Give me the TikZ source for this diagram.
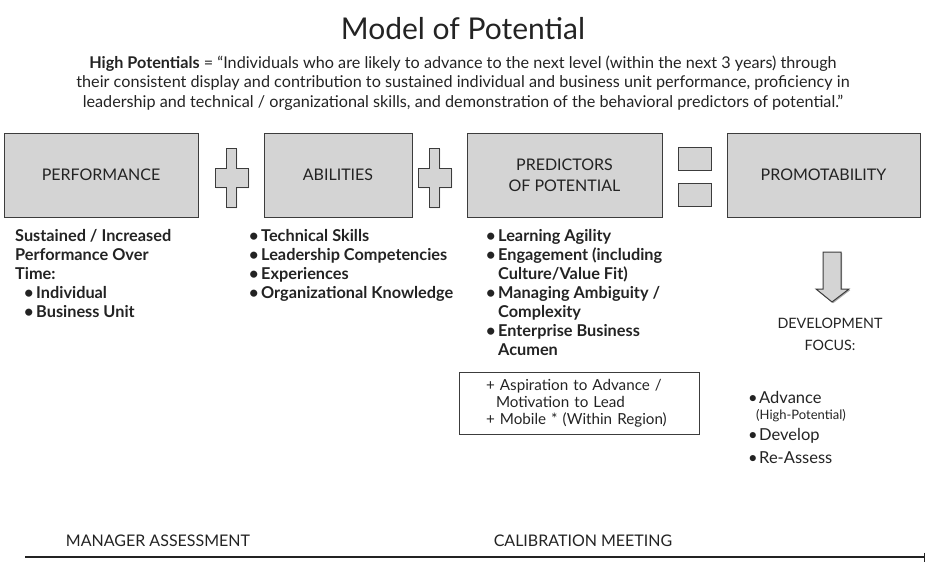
\documentclass[tikz,border=0pt]{standalone}
\usepackage{fontspec}
\setmainfont{Lato}
\usetikzlibrary{arrows.meta,shadows}
\definecolor{boxgray}{RGB}{212,212,212}
\definecolor{edgegray}{RGB}{60,60,60}
\definecolor{inkgray}{RGB}{35,35,35}
\tikzset{
  softshadow/.style={drop shadow={shadow xshift=1.2pt,shadow yshift=-1.2pt,fill=black!55,opacity=0.6}},
  blockbox/.style={draw=edgegray,fill=boxgray,line width=1pt,minimum height=84pt,inner sep=0pt,softshadow,
    align=center,text=inkgray,font=\fontsize{16}{21}\selectfont},
  signshape/.style={draw=edgegray,fill=boxgray,line width=1pt,softshadow},
  listtext/.style={anchor=north west,align=left,inner sep=0pt,text=inkgray,font=\fontsize{16.3}{19}\selectfont\bfseries},
  plaintext/.style={inner sep=0pt,text=inkgray,font=\fontsize{14.3}{22}\selectfont}
}
\newcommand{\bul}{\makebox[12pt][l]{\textbullet}}
\begin{document}
\begin{tikzpicture}[x=1pt,y=-1pt]
  \useasboundingbox (0,0) rectangle (927,563);
  % heading
  \node[plaintext,font=\fontsize{30}{34}\selectfont] (title) at (463,29) {Model of Potential};
  \node[plaintext,align=center,font=\fontsize{16.2}{19.5}\selectfont] (defn) at (463,83)
    {\textbf{High Potentials} = ``Individuals who are likely to advance to the next level (within the next 3 years) through\\
     their consistent display and contribution to sustained individual and business unit performance, proficiency in\\
     leadership and technical / organizational skills, and demonstration of the behavioral predictors of potential.''};
  % the four blocks
  \node[blockbox,minimum width=194pt] (perf) at (101,175) {PERFORMANCE};
  \node[blockbox,minimum width=148pt] (abil) at (338,175) {ABILITIES};
  \node[blockbox,minimum width=195pt] (pred) at (564.5,175) {PREDICTORS\\OF POTENTIAL};
  \node[blockbox,minimum width=193pt] (prom) at (823.5,175) {PROMOTABILITY};
  % plus, plus, equals
  \foreach \dx in {0,203}{
    \draw[signshape,shift={(\dx,0)}] (226,148) -- (236,148) -- (236,168) -- (248,168) -- (248,187) -- (236,187)
      -- (236,207) -- (226,207) -- (226,187) -- (215,187) -- (215,168) -- (226,168) -- cycle;
  }
  \draw[signshape] (678,147) rectangle (711,170);
  \draw[signshape] (678,183) rectangle (711,206);
  % lists under the blocks
  \node[listtext] (perflist) at (15,229) {Sustained / Increased\\Performance Over\\Time:\\
    \hspace*{9pt}\bul Individual\\\hspace*{9pt}\bul Business Unit};
  \node[listtext] (abillist) at (249,229) {\bul Technical Skills\\\bul Leadership Competencies\\
    \bul Experiences\\\bul Organizational Knowledge};
  \node[listtext] (predlist) at (486,229) {\bul Learning Agility\\\bul Engagement (including\\
    \hspace*{12pt}Culture/Value Fit)\\\bul Managing Ambiguity /\\\hspace*{12pt}Complexity\\
    \bul Enterprise Business\\\hspace*{12pt}Acumen};
  \node[draw=edgegray,line width=0.8pt,minimum width=240pt,minimum height=62pt,text width=192pt,
    inner xsep=24pt,align=left,text=inkgray,font=\fontsize{15.2}{16.8}\selectfont] (aspire) at (579,403)
    {\hspace*{3pt}+ Aspiration to Advance /\\\hspace*{13pt}Motivation to Lead\\\hspace*{3pt}+ Mobile * (Within Region)};
  % development focus
  \draw[signshape] (823,252) -- (841,252) -- (841,289) -- (849,289) -- (832,302) -- (816,289) -- (823,289) -- cycle;
  \node[plaintext,align=center] (focus) at (830,334) {DEVELOPMENT\\FOCUS:};
  \node[plaintext,anchor=west,font=\fontsize{16.5}{18}\selectfont] (adv) at (748,397) {\makebox[11pt][l]{\textbullet}Advance};
  \node[plaintext,anchor=west,font=\fontsize{13}{15}\selectfont] (advsub) at (756,416) {(High-Potential)};
  \node[plaintext,anchor=west,font=\fontsize{16.5}{18}\selectfont] (dev) at (748,436) {\makebox[11pt][l]{\textbullet}Develop};
  \node[plaintext,anchor=west,font=\fontsize{16.5}{18}\selectfont] (reas) at (748,458) {\makebox[11pt][l]{\textbullet}Re-Assess};
  % time line
  \node[plaintext,font=\fontsize{16}{18}\selectfont] (mgr) at (158,541) {MANAGER ASSESSMENT};
  \node[plaintext,font=\fontsize{16}{18}\selectfont] (calib) at (583,541) {CALIBRATION MEETING};
  \coordinate (tstart) at (25,557);
  \coordinate (tend) at (925,557);
  \draw[inkgray,line width=2pt,-{Bar[width=9pt,line width=1.2pt]}] (tstart) -- (tend);
\end{tikzpicture}
\end{document}
